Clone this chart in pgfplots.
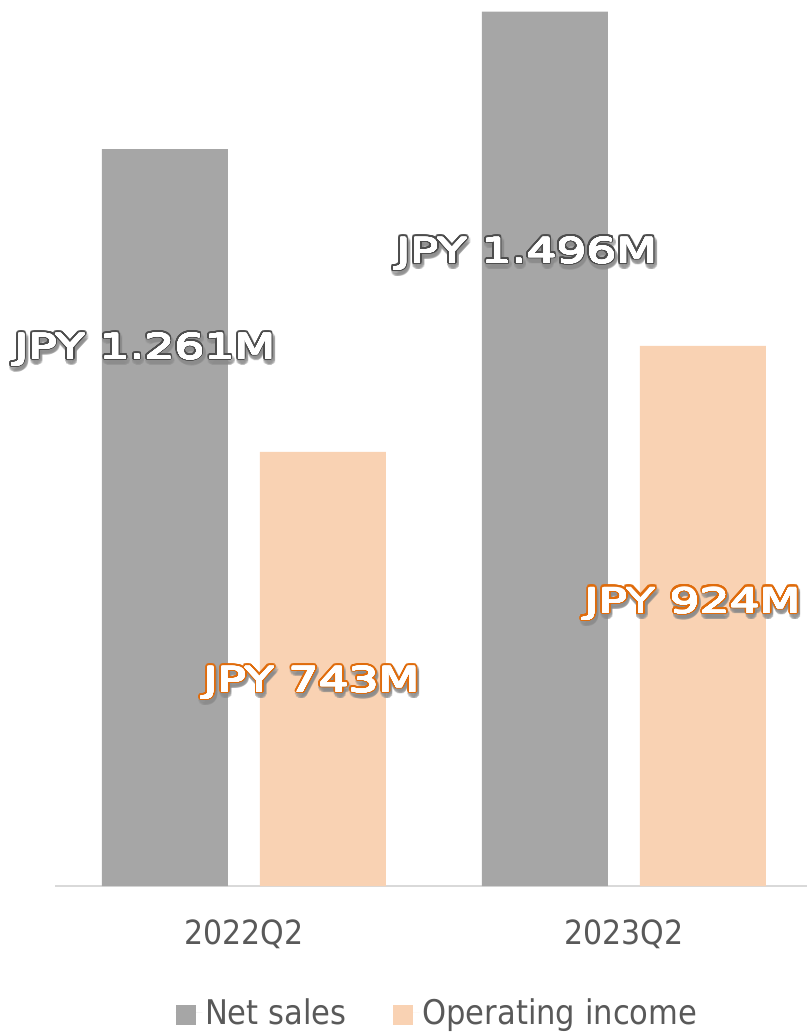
\documentclass[border=0pt]{standalone}
\usepackage{pgfplots}
\pgfplotsset{compat=1.18}
\usepackage{fontspec}
\usepackage{contour}
\setmainfont{DejaVu Sans}
\newfontfamily\labelfont[FakeStretch=1.36]{DejaVu Sans}
\newfontfamily\tickfont[FakeStretch=0.9]{DejaVu Sans}
\definecolor{barGray}{HTML}{A6A6A6}
\definecolor{barPeach}{HTML}{F9D2B3}
\definecolor{txtGray}{HTML}{595959}
\definecolor{edgeGray}{HTML}{4D4D4D}
\definecolor{edgeOrange}{HTML}{E06C0C}
\definecolor{axisGray}{HTML}{D9D9D9}
\contournumber{32}
\newcommand{\lbl}[4]{% x, y, edge colour, text
  \node[opacity=0.25] at (axis cs:#1,#2) [xshift=1pt,yshift=-3pt] {\fontsize{26}{28}\labelfont\contourlength{2.6pt}\contour{black!45}{\textcolor{black!45}{#4}}};
  \node at (axis cs:#1,#2) {\fontsize{26}{28}\labelfont\contourlength{1.7pt}\contour{#3}{\textcolor{#3}{#4}}};
  \node at (axis cs:#1,#2) {\fontsize{26}{28}\labelfont\contourlength{0.35pt}\contour{white}{\textcolor{white}{#4}}};
}
\begin{document}
\begin{tikzpicture}[x=1pt,y=1pt]
\begin{axis}[
  scale only axis,
  width=564pt, height=664.5pt,
  xmin=-0.497, xmax=1.482,
  ymin=0, ymax=1516,
  axis x line*=bottom,
  axis y line=none,
  x axis line style={draw=axisGray, line width=1.2pt, -},
  xtick={0,1},
  xticklabels={2022Q2,2023Q2},
  major tick length=0pt,
  xticklabel style={text=txtGray, font=\fontsize{25}{28}\tickfont, anchor=base, yshift=-44pt},
  ytick=\empty,
  bar width=0.3316,
  clip=false,
  legend style={at={(0.509,-0.143)}, anchor=center, draw=none, fill=none,
    font=\fontsize{25.5}{28}\tickfont, text=txtGray, legend columns=2,
    /tikz/every even column/.append style={column sep=33pt}},
  legend image code/.code={\fill[#1,draw=none] (0pt,-9.5pt) rectangle (15pt,5.5pt);\path (0pt,0pt) -- (20pt,0pt);},
]
\addplot[ybar, bar shift=-0.208, fill=barGray, draw=none] coordinates {(0,1261) (1,1496)};
\addlegendentry{Net sales}
\addplot[ybar, bar shift=0.208, fill=barPeach, draw=none] coordinates {(0,743) (1,924)};
\addlegendentry{Operating income}
\lbl{-0.26}{917}{edgeGray}{JPY 1.261M}
\lbl{0.745}{1081}{edgeGray}{JPY 1.496M}
\lbl{0.179}{347}{edgeOrange}{JPY 743M}
\lbl{1.182}{482}{edgeOrange}{JPY 924M}
\end{axis}
\pgfresetboundingbox
\path (current axis.south west) ++(-41.25pt,-109.5pt) rectangle (current axis.north east);
\end{tikzpicture}
\end{document}
